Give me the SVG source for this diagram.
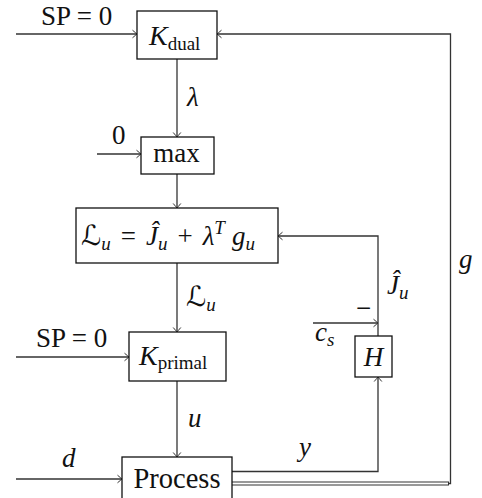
<svg xmlns="http://www.w3.org/2000/svg" width="482" height="498" viewBox="0 0 482 498">
<defs>
<style>
.box{fill:#fff;stroke:#111;stroke-width:1.3}
.ln{fill:none;stroke:#333;stroke-width:1.3}
.t{font-family:"Liberation Serif","DejaVu Serif",serif;font-size:27px;fill:#111}
.it{font-style:italic}
.sub{font-size:19px}
.scr{font-family:"DejaVu Serif","DejaVu Sans","Noto Sans",serif;font-style:normal}
</style>
<marker id="ar" viewBox="-6 -5 8 10" refX="0" refY="0" markerWidth="8" markerHeight="10" markerUnits="userSpaceOnUse" orient="auto">
<path d="M-4.5,-3.8 Q-1.2,-1 0,0 Q-1.2,1 -4.5,3.8" fill="none" stroke="#333" stroke-width="1"/>
</marker>
</defs>
<rect width="482" height="498" fill="#fff"/>

<g id="connectors">
<path class="ln" d="M16,34 H137" marker-end="url(#ar)"/>
<path class="ln" d="M232,483.5 H450.5 V34 H217" marker-end="url(#ar)"/>
<path d="M232,483.5 H449" fill="none" stroke="#333" stroke-width="4.2"/>
<path d="M232,483.5 H448" fill="none" stroke="#fff" stroke-width="1.8"/>
<path class="ln" d="M177,59 V137" marker-end="url(#ar)"/>
<path class="ln" d="M97,154 H141" marker-end="url(#ar)"/>
<path class="ln" d="M177,174 V208" marker-end="url(#ar)"/>
<path class="ln" d="M378,336 V236 H278" marker-end="url(#ar)"/>
<path class="ln" d="M177,263 V332" marker-end="url(#ar)"/>
<path class="ln" d="M16,357 H129" marker-end="url(#ar)"/>
<path class="ln" d="M313,323 H378" marker-end="url(#ar)"/>
<path class="ln" d="M177,381 V457" marker-end="url(#ar)"/>
<path class="ln" d="M16,479 H122" marker-end="url(#ar)"/>
<path class="ln" d="M232,471.5 H378 V377" marker-end="url(#ar)"/>
</g>

<g id="labels">
<text class="t" x="41" y="25">SP = 0</text>
<text class="t it" x="187" y="106">λ</text>
<text class="t" x="112" y="144">0</text>
<text class="t" x="186" y="306"><tspan class="scr" style="font-size:28px">ℒ</tspan><tspan class="sub it" dy="5">u</tspan></text>
<text class="t" x="387" y="294"><tspan class="it">Ĵ</tspan><tspan class="sub it" dy="5">u</tspan></text>
<text class="t" x="36" y="347">SP = 0</text>
<text class="t" x="356" y="317">−</text>
<text class="t" x="315" y="341"><tspan class="it">c</tspan><tspan class="sub it" dy="5">s</tspan></text>
<text class="t it" x="188" y="427">u</text>
<text class="t it" x="62" y="467">d</text>
<text class="t it" x="299" y="456">y</text>
<text class="t it" x="459" y="268">g</text>
</g>

<g id="kdual">
<rect class="box" x="137" y="11" width="80" height="48"/>
<text class="t" x="149" y="45"><tspan class="it" style="font-size:28px">K</tspan><tspan class="sub" dy="5">dual</tspan></text>
</g>

<g id="max">
<rect class="box" x="141" y="137" width="73" height="37"/>
<text class="t" x="176.5" y="162" text-anchor="middle">max</text>
</g>

<g id="lagrangian">
<rect class="box" x="76" y="208" width="202" height="55"/>
<text class="t" x="81" y="245"><tspan class="scr" style="font-size:28px">ℒ</tspan><tspan class="sub it" dy="5">u</tspan><tspan dy="-5" dx="10">=</tspan><tspan class="it" dx="10">Ĵ</tspan><tspan class="sub it" dy="5">u</tspan><tspan dy="-5" dx="10">+</tspan><tspan class="it" dx="10">λ</tspan><tspan class="sub it" dy="-11">T</tspan><tspan class="it" dy="11" dx="7">g</tspan><tspan class="sub it" dy="5">u</tspan></text>
</g>

<g id="kprimal">
<rect class="box" x="129" y="332" width="97" height="49"/>
<text class="t" x="139" y="365"><tspan class="it" style="font-size:28px">K</tspan><tspan class="sub" dy="4">primal</tspan></text>
</g>

<g id="h">
<rect class="box" x="355" y="336" width="37" height="41"/>
<text class="t it" x="373.5" y="366" text-anchor="middle">H</text>
</g>

<g id="process">
<rect class="box" x="122" y="457" width="110" height="50"/>
<text class="t" x="177" y="488" text-anchor="middle" style="font-size:28.5px">Process</text>
</g>
</svg>
